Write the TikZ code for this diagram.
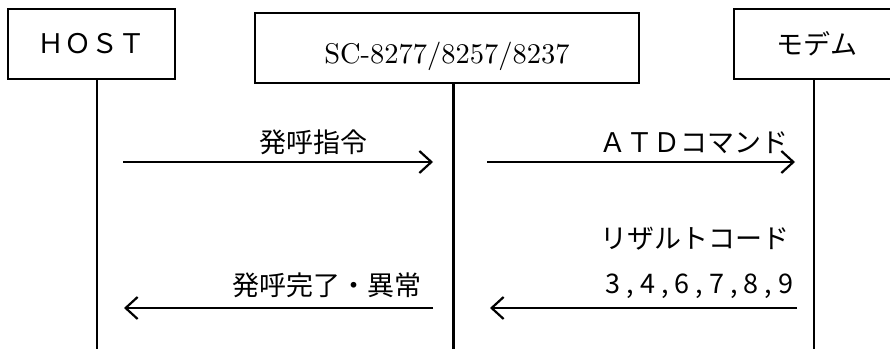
\documentclass[tikz,border=0pt]{standalone}
\usepackage{fontspec}
\newfontfamily\jp{Noto Sans CJK JP}
\newfontfamily\scfont{lmroman10-regular.otf}
\usetikzlibrary{arrows.meta,calc}
\newcommand\dgap{\hspace{6pt}}
\begin{document}
\begin{tikzpicture}[x=1pt,y=-1pt,
  box/.style={draw,line width=2.2pt,minimum height=70pt,inner sep=0pt},
  jpfont/.style={font=\jp\fontsize{27}{30}\selectfont},
  lbl/.style={jpfont,inner sep=0pt},
  life/.style={line width=2.2pt},
  msg/.style={line width=2.2pt,-{Straight Barb[length=12pt,width=22pt,line width=2.2pt]}}]
\useasboundingbox (0,0) rectangle (890,349);
% heads
\node[box,jpfont,minimum width=167pt] (host) at (91.5,44) {ＨＯＳＴ};
\node[box,minimum width=384pt,font=\scfont\fontsize{28.5}{30}\selectfont,text height=30pt,text depth=0pt] (sc) at (447,48) {SC-8277/8257/8237};
\node[box,jpfont,minimum width=166pt] (modem) at (817,44) {モデム};
% lifelines
\coordinate (hostEnd) at (97,349);
\coordinate (scEnd) at (453.5,349);
\coordinate (modemEnd) at (814,349);
\draw[life] (host.south -| hostEnd) -- (hostEnd);
\draw[life] (sc.south -| scEnd) -- (scEnd);
\draw[life] (modem.south -| modemEnd) -- (modemEnd);
% messages
\coordinate (m1s) at (123,162); \coordinate (m1e) at (433,162);
\coordinate (m2s) at (433,308); \coordinate (m2e) at (124,308);
\coordinate (m3s) at (487,162); \coordinate (m3e) at (795,162);
\coordinate (m4s) at (797,308); \coordinate (m4e) at (490,308);
\draw[msg] (m1s) -- (m1e);
\draw[msg] (m2s) -- (m2e);
\draw[msg] (m3s) -- (m3e);
\draw[msg] (m4s) -- (m4e);
% labels
\node[lbl] (l1) at (313,142) {発呼指令};
\node[lbl] (l2) at (326.5,285) {発呼完了・異常};
\node[lbl] (l3) at (693.5,143) {ＡＴＤコマンド};
\node[lbl] (l4) at (695,239) {リザルトコード};
\node[lbl] (l5) at (699.5,286) {3\dgap,\dgap4\dgap,\dgap6\dgap,\dgap7\dgap,\dgap8\dgap,\dgap9};
\end{tikzpicture}
\end{document}
